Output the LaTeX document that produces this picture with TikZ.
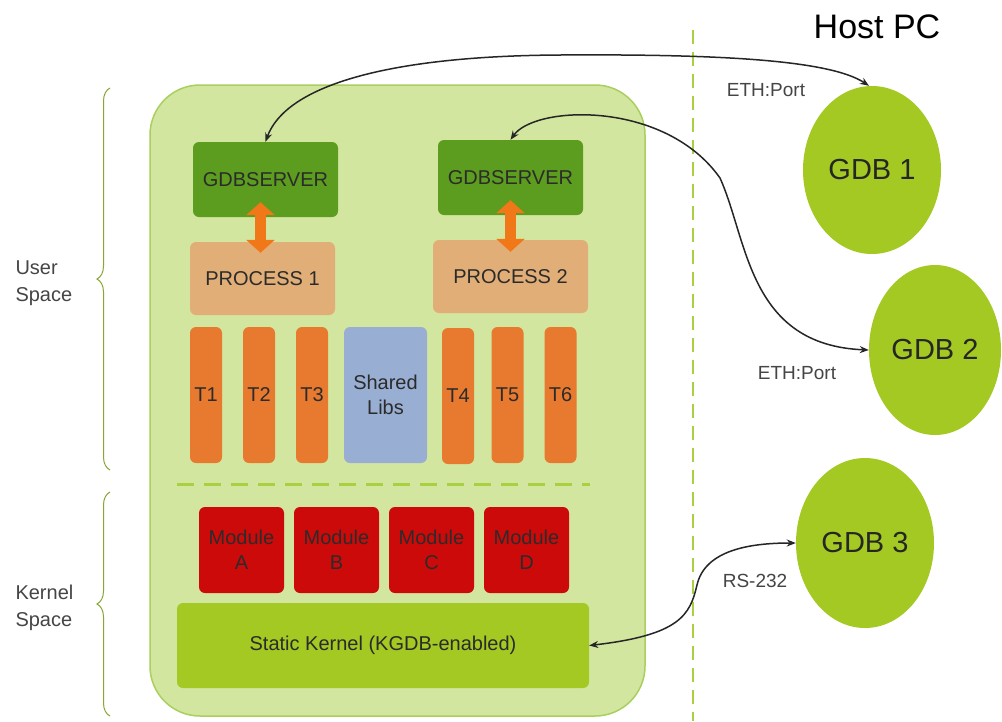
\documentclass[tikz,border=0pt]{standalone}
\usepackage{fontspec}
\setmainfont{Liberation Sans}
\usetikzlibrary{arrows.meta,shapes.geometric,decorations.pathreplacing}

\definecolor{boardgreen}{HTML}{D3E6A0}
\definecolor{boardline}{HTML}{A9CF5E}
\definecolor{servergreen}{HTML}{5C9C1E}
\definecolor{proctan}{HTML}{E2AE78}
\definecolor{threadorange}{HTML}{E87A30}
\definecolor{libblue}{HTML}{98AED2}
\definecolor{modred}{HTML}{CC0A0A}
\definecolor{kernelgreen}{HTML}{A3C922}
\definecolor{dashgreen}{HTML}{A8D040}
\definecolor{linkorange}{HTML}{F07818}
\definecolor{textgray}{HTML}{2B2B2B}
\definecolor{labelgray}{HTML}{454545}

\begin{document}
\begin{tikzpicture}[x=1pt,y=-1pt,
		box/.style={rectangle, rounded corners=6pt, inner sep=0pt, text=textgray, align=center, font=\fontsize{20}{25}\selectfont},
		thread/.style={box, fill=threadorange, minimum width=32pt, minimum height=136pt},
		module/.style={box, fill=modred, minimum width=85pt, minimum height=86pt},
		gdb/.style={ellipse, fill=kernelgreen, inner sep=0pt, minimum width=138pt, minimum height=168pt, text=black!85, font=\fontsize{29}{34}\selectfont},
		side/.style={text=labelgray, align=left, anchor=west, font=\fontsize{20}{27}\selectfont},
		port/.style={text=labelgray, font=\fontsize{19}{23}\selectfont},
		link/.style={{Stealth[length=9pt,width=7pt]}-{Stealth[length=9pt,width=7pt]}, line width=1.5pt, black!85},
		biarrow/.style={{Triangle[width=28pt,length=13pt]}-{Triangle[width=28pt,length=13pt]}, line width=11pt, linkorange},
		brace/.style={decorate, decoration={brace, amplitude=13pt}, dashgreen!80!black, line width=1pt}]
	\useasboundingbox [fill=white] (0,0) rectangle (1002,721);
	
	% host side
	\draw [dashgreen, line width=2.5pt, dash pattern=on 14pt off 8pt] (693,30) -- (693,721);
	\node (hostpc) at (877,27) {\fontsize{34}{40}\selectfont Host PC};
	
	% target board
	\filldraw [fill=boardgreen, draw=boardline, line width=1.5pt, rounded corners=50pt] (150,85) rectangle (645,716);
	\draw [dashgreen, line width=3pt, dash pattern=on 17pt off 10pt] (177,484) -- (590,484);
	
	\node [box, fill=servergreen, minimum width=145pt, minimum height=75pt] (gs1) at (265.5,179.5) {GDBSERVER};
	\node [box, fill=servergreen, minimum width=145pt, minimum height=75pt] (gs2) at (510.5,177.5) {GDBSERVER};
	\node [box, fill=proctan, minimum width=145pt, minimum height=73pt] (pr1) at (262.5,278.5) {PROCESS 1};
	\node [box, fill=proctan, minimum width=155pt, minimum height=73pt] (pr2) at (510.5,276.5) {PROCESS 2};
	
	\node [thread] (t1) at (206,395) {T1};
	\node [thread] (t2) at (259,395) {T2};
	\node [thread] (t3) at (312,395) {T3};
	\node [box, fill=libblue, minimum width=83pt, minimum height=136pt] (libs) at (385.5,395) {Shared\\Libs};
	\node [thread] (t4) at (458,396) {T4};
	\node [thread] (t5) at (507.5,395) {T5};
	\node [thread] (t6) at (560.5,395) {T6};
	
	\node [module] (moda) at (241.5,550) {Module\\A};
	\node [module] (modb) at (336.5,550) {Module\\B};
	\node [module] (modc) at (431.5,550) {Module\\C};
	\node [module] (modd) at (526.5,550) {Module\\D};
	
	\node [box, fill=kernelgreen, minimum width=412pt, minimum height=85pt] (kernel) at (383,645.5) {Static Kernel (KGDB-enabled)};
	
	\draw [biarrow] ([xshift=-5pt,yshift=15pt]gs1.south) -- ([xshift=-2pt,yshift=-11pt]pr1.north);
	\draw [biarrow] ([yshift=15pt]gs2.south) -- ([yshift=-12pt]pr2.north);
	
	% space braces
	\draw [brace] (110,470) -- (110,88);
	\draw [brace] (110,716) -- (110,492);
	\node [side] (user) at (12,283) {User\\Space};
	\node [side] (kspace) at (12,608) {Kernel\\Space};
	
	% debuggers
	\node [gdb] (gdb1) at (872,170) {GDB 1};
	\node [gdb, minimum width=132pt, minimum height=170pt] (gdb2) at (935,350) {GDB 2};
	\node [gdb, minimum height=170pt] (gdb3) at (865,543) {GDB 3};
	
	\draw [link] (gs1.north) .. controls (285,88) and (380,56) .. (560,55) .. controls (720,54) and (830,60) .. ([xshift=-3pt]gdb1.north);
	\draw [link] (gs2.north) .. controls (535,105) and (665,100) .. (720,178) .. controls (748,240) and (748,345) .. (gdb2.west);
	\draw [link] (kernel.east) .. controls (680,635) and (690,615) .. (697,585) .. controls (705,550) and (750,543) .. (gdb3.west);
	
	\node [port] (eth1) at (766,90) {ETH:Port};
	\node [port] (eth2) at (797,373) {ETH:Port};
	\node [port] (rs) at (755,581) {RS-232};
\end{tikzpicture}
\end{document}
